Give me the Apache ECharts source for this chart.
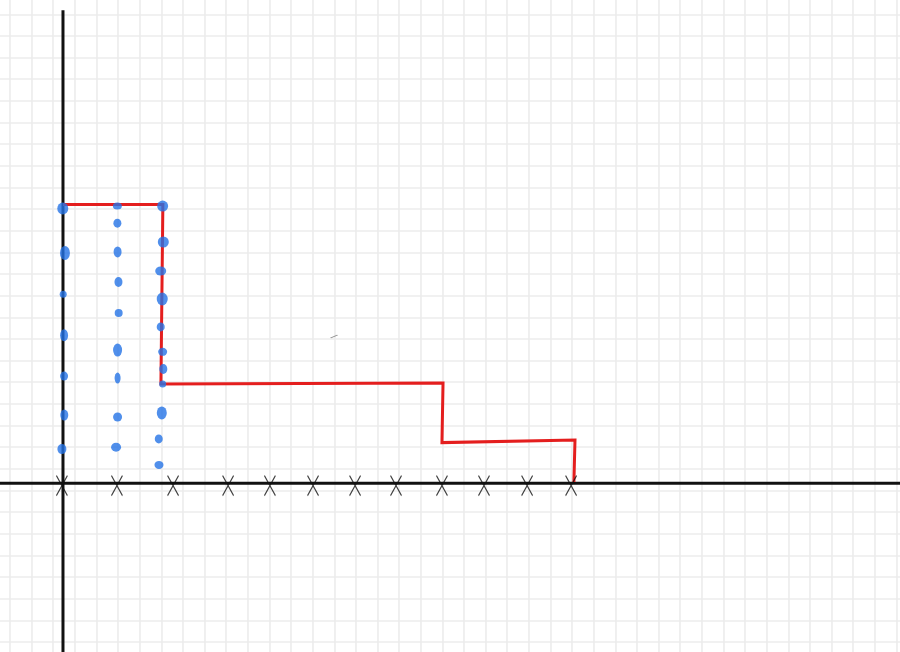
<!DOCTYPE html>
<html>
<head>
<meta charset="utf-8">
<script src="https://cdn.jsdelivr.net/npm/echarts@6/dist/echarts.min.js"></script>
<style>html,body{margin:0;padding:0;background:#fff;}#c{width:900px;height:652px;}</style>
</head>
<body>
<div id="c"></div>
<script>
// Units: one square of the sketch paper; origin where the two drawn axes cross.
const xMin = -2.907, xMax = 38.63, yMin = -7.785, yMax = 22.31;
const yAxisTop = 21.84;

// Red step line (corner points)
const stepX = [0, 4.61, 4.52, 17.54, 17.49, 23.63, 23.58];
const stepY = [12.87, 12.87, 4.58, 4.63, 1.88, 2.00, 0.06];

// Blue dotted columns
const dotsAX = [-0.01, 0.09, 0.01, 0.05, 0.05, 0.06, -0.05];
const dotsAY = [12.69, 10.63, 8.73, 6.84, 4.95, 3.15, 1.58];
const dotsBX = [2.51, 2.51, 2.52, 2.56, 2.57, 2.52, 2.52, 2.52, 2.45];
const dotsBY = [12.80, 12.01, 10.68, 9.29, 7.86, 6.15, 4.86, 3.06, 1.67];
const dotsCX = [4.60, 4.63, 4.51, 4.58, 4.51, 4.60, 4.63, 4.60, 4.56, 4.42, 4.43];
const dotsCY = [12.80, 11.14, 9.80, 8.51, 7.22, 6.07, 5.28, 4.59, 3.25, 2.05, 0.85];

// Tick crosses along the horizontal axis
const crossX = [-0.05, 2.49, 5.08, 7.62, 9.55, 11.54, 13.48, 15.37, 17.49, 19.43, 21.42, 23.45];

// stray pen mark
const strayMark = [[12.51, 6.78]];

// paper squares: 41 columns, 29 rows
const paperCols = 41, paperRows = 29;

// --- styles (sizes of the hand-drawn dots) ---
const sizeA = [[11,12],[10,14],[7,7],[8,12],[8,9],[8,11],[9,10]];
const sizeB = [[9,7],[8,9],[8,11],[8,10],[8,8],[9,13],[6,11],[9,9],[10,9]];
const sizeC = [[11,11],[11,11],[11,9],[11,13],[8,9],[9,8],[8,10],[7,7],[10,13],[8,9],[9,8]];

const zip = (xs, ys) => xs.map((x, i) => [x, ys[i]]);
const BLUE = '#2473e6', RED = '#e41e1e', INK = '#111111';
const PAPER = { color: '#ececec', width: 1.6 };
const off = { show: false };

function dotSeries(xs, ys, sizes) {
  return {
    type: 'scatter', xAxisIndex: 0, yAxisIndex: 0, z: 5,
    data: zip(xs, ys),
    symbol: 'circle',
    symbolSize: (v, p) => sizes[p.dataIndex],
    itemStyle: { color: BLUE },
    silent: true
  };
}

const chart = echarts.init(document.getElementById('c'), null, { renderer: 'canvas' });
chart.setOption({
  animation: false,
  backgroundColor: '#ffffff',
  grid: [
    { left: 0, top: 0, width: 900, height: 652 },
    { left: 10, top: 0, width: 886.4, height: 652 },
    { left: 0, top: 14.3, width: 900, height: 627.6 }
  ],
  xAxis: [
    { type: 'value', gridIndex: 0, min: xMin, max: xMax, show: false },
    { type: 'value', gridIndex: 1, min: 0, max: paperCols, interval: 1,
      axisLine: off, axisTick: off, axisLabel: off,
      splitLine: { show: true, lineStyle: PAPER } },
    { type: 'value', gridIndex: 2, min: 0, max: 1, show: false, splitLine: off }
  ],
  yAxis: [
    { type: 'value', gridIndex: 0, min: yMin, max: yMax, show: false },
    { type: 'value', gridIndex: 1, min: 0, max: 1, show: false, splitLine: off },
    { type: 'value', gridIndex: 2, min: 0, max: paperRows, interval: 1,
      axisLine: off, axisTick: off, axisLabel: off,
      splitLine: { show: true, lineStyle: PAPER } }
  ],
  series: [
    { type: 'line', xAxisIndex: 0, yAxisIndex: 0, z: 2, symbol: 'none', silent: true,
      data: [[0, yAxisTop], [0, yMin]], lineStyle: { color: INK, width: 3 } },
    { type: 'line', xAxisIndex: 0, yAxisIndex: 0, z: 2, symbol: 'none', silent: true,
      data: [[xMin, 0], [xMax, 0]], lineStyle: { color: INK, width: 3 } },
    { type: 'line', xAxisIndex: 0, yAxisIndex: 0, z: 3, symbol: 'none', silent: true,
      data: zip(stepX, stepY), lineStyle: { color: RED, width: 3, join: 'miter' } },
    dotSeries(dotsAX, dotsAY, sizeA),
    dotSeries(dotsBX, dotsBY, sizeB),
    dotSeries(dotsCX, dotsCY, sizeC),
    { type: 'scatter', xAxisIndex: 0, yAxisIndex: 0, z: 6, silent: true,
      data: crossX.map(x => [x, -0.1]),
      symbol: 'path://M0,0L11,20M11,0L0,20', symbolSize: [11, 20], symbolKeepAspect: false,
      itemStyle: { color: 'rgba(0,0,0,0)', borderColor: '#111', borderWidth: 1.3 } },
    { type: 'scatter', xAxisIndex: 0, yAxisIndex: 0, z: 6, silent: true,
      data: strayMark,
      symbol: 'path://M0,3L7,0', symbolSize: [7, 3],
      itemStyle: { color: 'rgba(0,0,0,0)', borderColor: '#777', borderWidth: 1 } }
  ]
});
</script>
</body>
</html>
